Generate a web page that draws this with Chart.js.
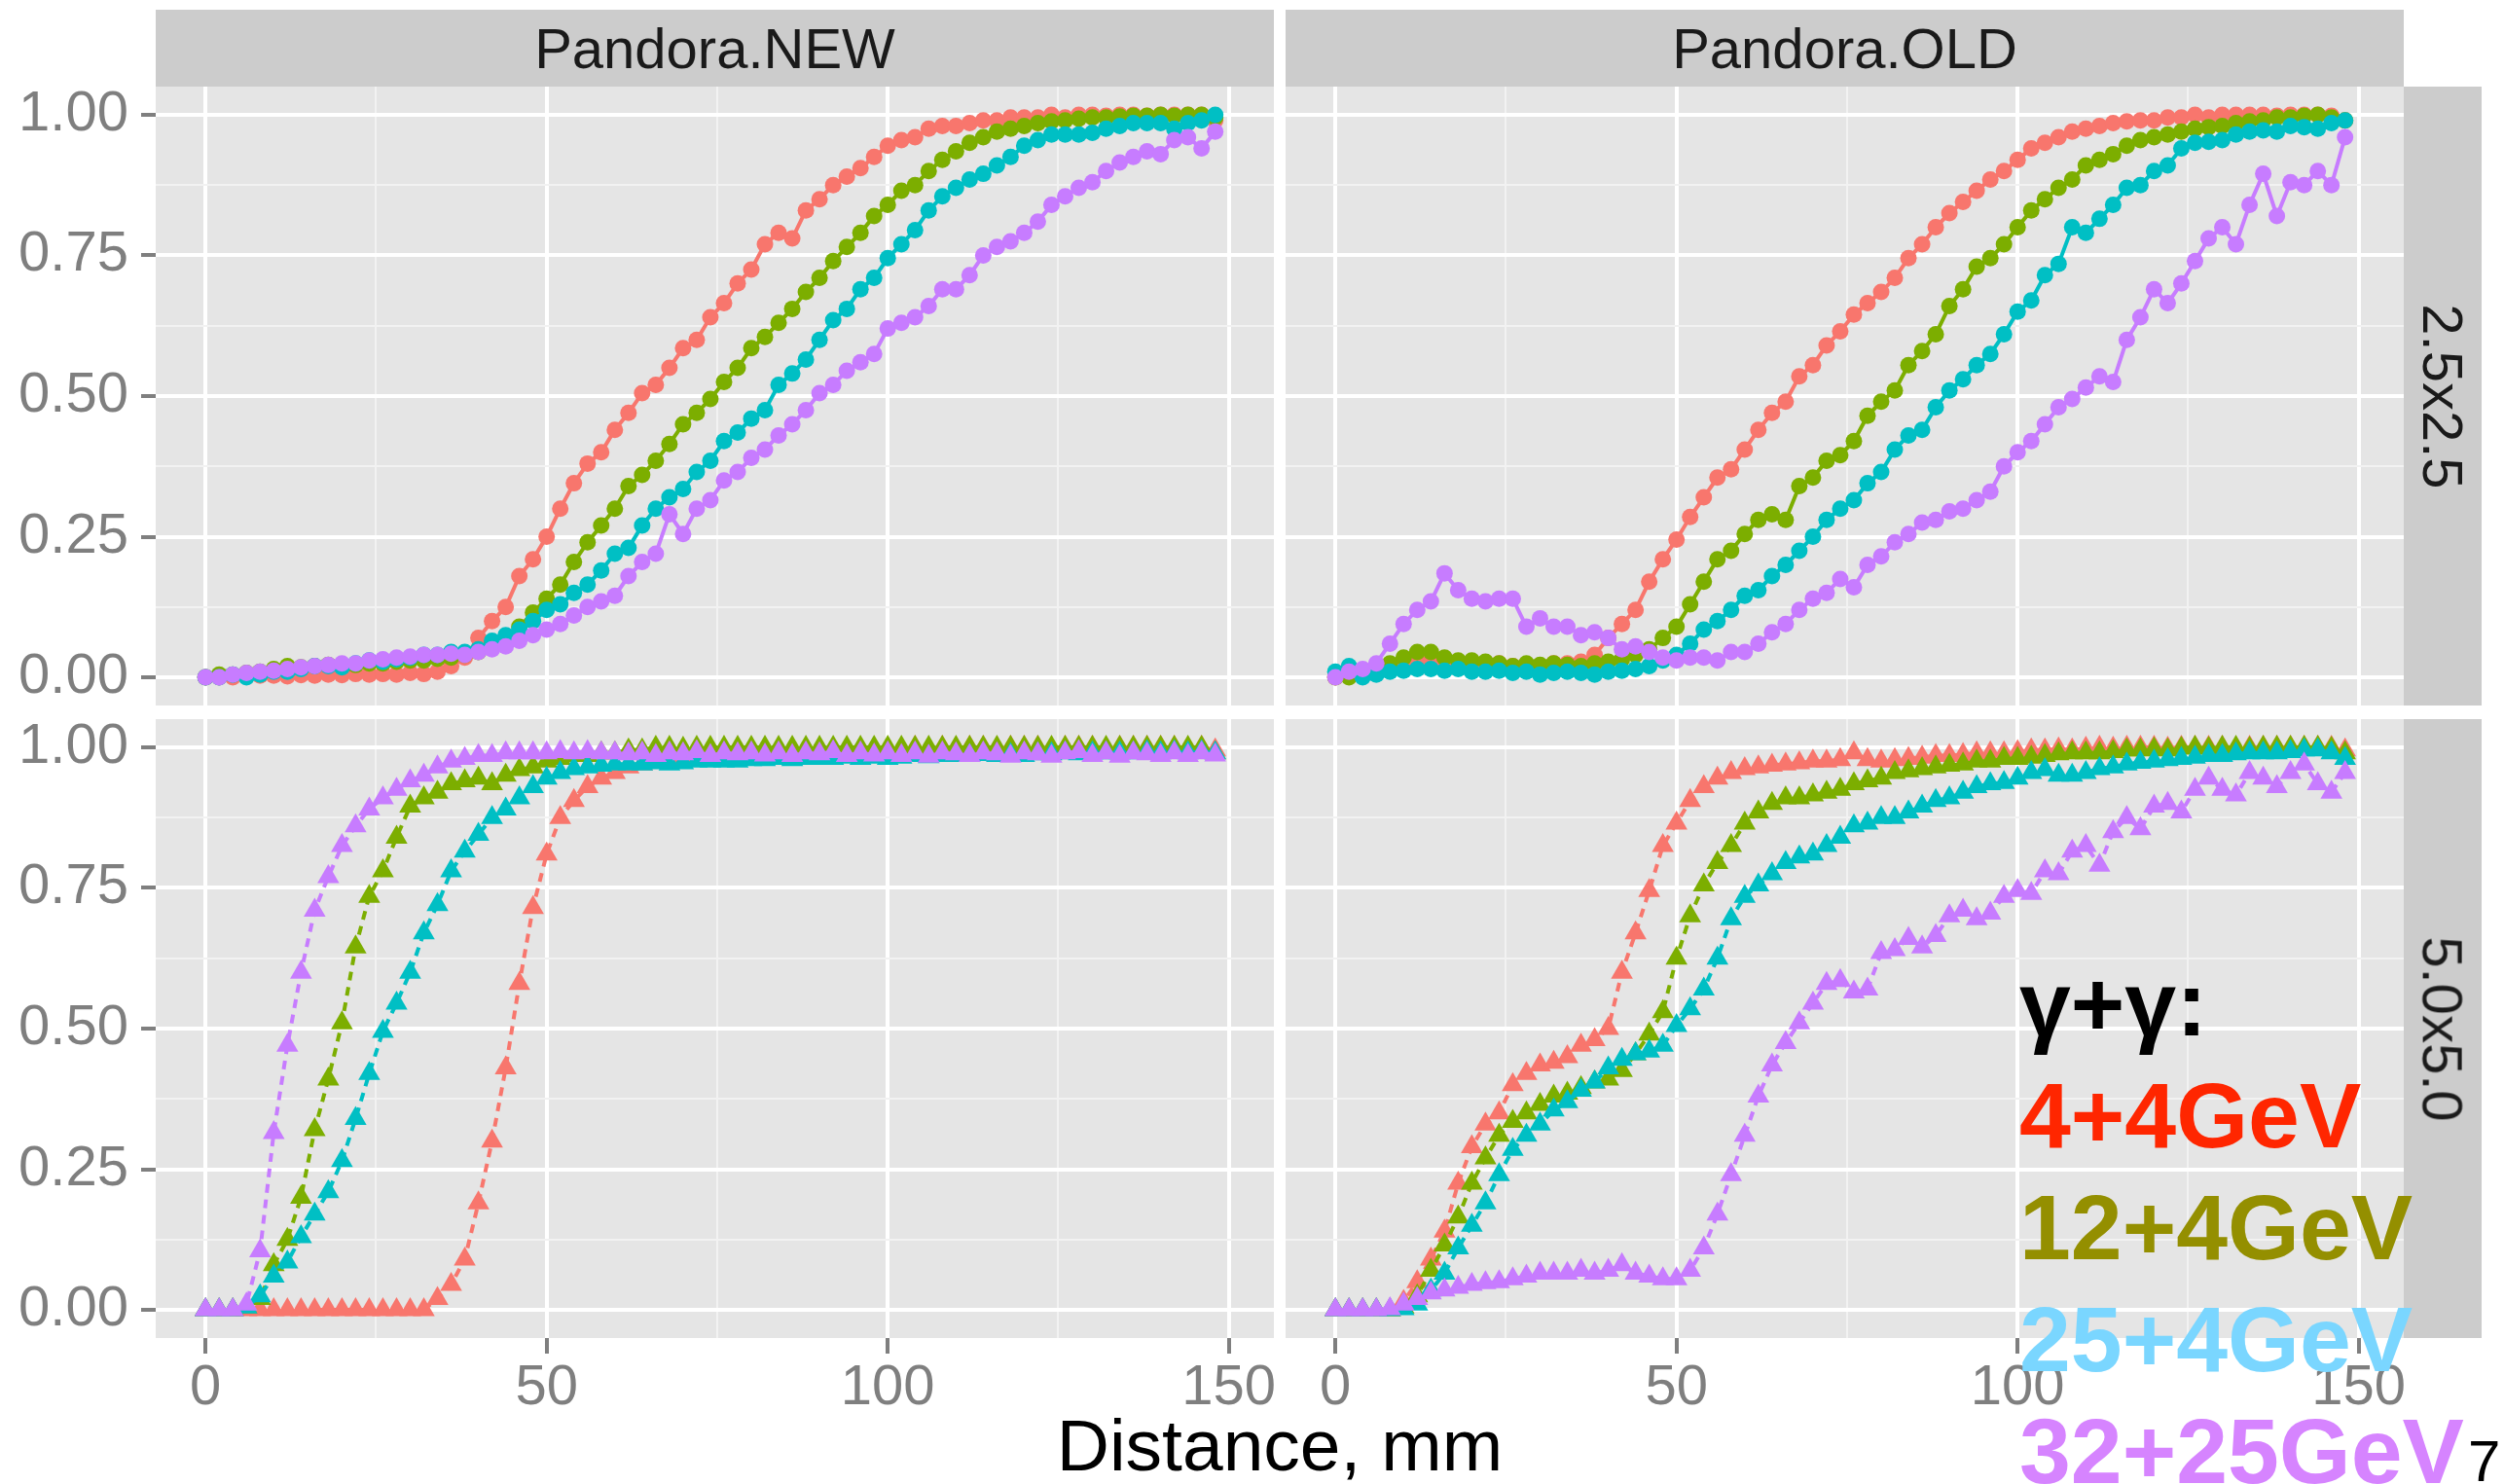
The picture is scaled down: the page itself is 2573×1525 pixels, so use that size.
<!DOCTYPE html>
<html>
<head>
<meta charset="utf-8">
<script src="https://cdn.jsdelivr.net/npm/chart.js@4.4.1/dist/chart.umd.min.js"></script>
<style>
body { margin: 0; background: #fff; }
#page { position: relative; width: 2573px; height: 1525px; overflow: hidden; font-family: "Liberation Sans", Arial, sans-serif; }
canvas { position: absolute; }
.strip { position: absolute; background: #CCCCCC; color: #1A1A1A; font-size: 58px; display: flex; align-items: center; justify-content: center; z-index: 2; }
.strip span { display: inline-block; white-space: nowrap; }
.strip.vert span { transform: rotate(90deg); }
.txt { position: absolute; white-space: nowrap; line-height: 1.117; z-index: 3; }
.leg { font-size: 95px; font-weight: bold; left: 2075px; }
</style>
</head>
<body>
<div id="page">
  <canvas id="tl"></canvas>
  <canvas id="tr"></canvas>
  <canvas id="bl"></canvas>
  <canvas id="br"></canvas>

  <div class="strip" style="left:160px;top:10px;width:1149px;height:79px;"><span>Pandora.NEW</span></div>
  <div class="strip" style="left:1321px;top:10px;width:1149px;height:79px;"><span>Pandora.OLD</span></div>
  <div class="strip vert" style="left:2470px;top:89px;width:80px;height:636px;"><span>2.5x2.5</span></div>
  <div class="strip vert" style="left:2470px;top:739px;width:80px;height:636px;"><span>5.0x5.0</span></div>

  <div class="txt" style="left:1315px;top:1444px;font-size:75px;color:#000;transform:translateX(-50%);">Distance, mm</div>

  <div class="txt leg" style="top:978px;color:#000;">γ+γ:</div>
  <div class="txt leg" style="top:1093px;color:#FF2600;">4+4GeV</div>
  <div class="txt leg" style="top:1208px;color:#948F00;">12+4GeV</div>
  <div class="txt leg" style="top:1323px;color:#7AD6FF;">25+4GeV</div>
  <div class="txt leg" style="top:1438px;color:#D684FF;">32+25GeV</div>
  <div class="txt" style="left:2536px;top:1468px;font-size:60px;color:#000;">7</div>
</div>

<script>
// distance along the shower, mm
var distance = [
  0, 2, 4, 6, 8, 10, 12, 14, 16, 18,
  20, 22, 24, 26, 28, 30, 32, 34, 36, 38,
  40, 42, 44, 46, 48, 50, 52, 54, 56, 58,
  60, 62, 64, 66, 68, 70, 72, 74, 76, 78,
  80, 82, 84, 86, 88, 90, 92, 94, 96, 98,
  100, 102, 104, 106, 108, 110, 112, 114, 116, 118,
  120, 122, 124, 126, 128, 130, 132, 134, 136, 138,
  140, 142, 144, 146, 148
];

var xMajor = [0, 50, 100, 150];
var xMinor = [25, 75, 125];
var yMajor = [0, 0.25, 0.5, 0.75, 1];
var yMinor = [0.125, 0.375, 0.625, 0.875];

var seriesNames = ['4+4GeV', '12+4GeV', '25+4GeV', '32+25GeV'];
var seriesColors = ['#F8766D', '#7CAE00', '#00BFC4', '#C77CFF'];

// Pandora.NEW, 2.5x2.5
var newFine_e4_4 = [
  0, 0, 0, 0.002, 0.003, 0.003, 0.002, 0.004, 0.003, 0.005,
  0.004, 0.006, 0.005, 0.006, 0.005, 0.008, 0.006, 0.01, 0.02, 0.035,
  0.07, 0.1, 0.125, 0.18, 0.21, 0.25, 0.3, 0.345, 0.38, 0.4,
  0.44, 0.47, 0.505, 0.52, 0.55, 0.585, 0.6, 0.64, 0.665, 0.7,
  0.725, 0.77, 0.79, 0.78, 0.83, 0.85, 0.875, 0.89, 0.905, 0.925,
  0.945, 0.955, 0.96, 0.975, 0.98, 0.98, 0.985, 0.99, 0.99, 0.995,
  0.995, 0.995, 1, 0.995, 1, 1, 0.998, 1, 1, 0.998,
  1, 1, 1, 1, 0.99
];
var newFine_e12_4 = [
  0, 0.005, 0.005, 0.008, 0.01, 0.015, 0.02, 0.018, 0.02, 0.022,
  0.02, 0.022, 0.025, 0.025, 0.028, 0.03, 0.03, 0.033, 0.035, 0.04,
  0.045, 0.06, 0.07, 0.09, 0.115, 0.14, 0.165, 0.205, 0.24, 0.27,
  0.3, 0.34, 0.36, 0.385, 0.415, 0.45, 0.47, 0.495, 0.525, 0.55,
  0.585, 0.605, 0.63, 0.655, 0.685, 0.71, 0.74, 0.765, 0.79, 0.82,
  0.84, 0.865, 0.875, 0.9, 0.92, 0.935, 0.95, 0.96, 0.97, 0.975,
  0.98, 0.985, 0.988, 0.99, 0.993, 0.995, 0.995, 0.997, 0.998, 0.998,
  1, 0.998, 1, 1, 0.995
];
var newFine_e25_4 = [
  0, 0, 0.005, 0, 0.005, 0.01, 0.01, 0.015, 0.02, 0.02,
  0.018, 0.025, 0.03, 0.028, 0.032, 0.035, 0.04, 0.04, 0.045, 0.045,
  0.05, 0.065, 0.075, 0.085, 0.1, 0.12, 0.13, 0.15, 0.165, 0.19,
  0.22, 0.23, 0.27, 0.3, 0.32, 0.335, 0.365, 0.385, 0.42, 0.435,
  0.46, 0.475, 0.52, 0.54, 0.565, 0.6, 0.635, 0.655, 0.69, 0.71,
  0.745, 0.77, 0.795, 0.83, 0.855, 0.87, 0.885, 0.895, 0.91, 0.925,
  0.945, 0.955, 0.965, 0.965, 0.965, 0.968, 0.975, 0.98, 0.985, 0.985,
  0.985, 0.975, 0.985, 0.99, 1
];
var newFine_e32_25 = [
  0, 0, 0.005, 0.008, 0.01, 0.012, 0.015, 0.018, 0.02, 0.022,
  0.025, 0.025, 0.03, 0.032, 0.035, 0.037, 0.04, 0.04, 0.042, 0.04,
  0.045, 0.05, 0.055, 0.065, 0.075, 0.085, 0.095, 0.11, 0.125, 0.135,
  0.145, 0.18, 0.205, 0.22, 0.29, 0.255, 0.3, 0.315, 0.35, 0.365,
  0.39, 0.405, 0.43, 0.45, 0.475, 0.505, 0.52, 0.545, 0.56, 0.575,
  0.62, 0.63, 0.64, 0.66, 0.69, 0.69, 0.715, 0.75, 0.765, 0.775,
  0.79, 0.81, 0.84, 0.855, 0.87, 0.88, 0.9, 0.915, 0.925, 0.935,
  0.93, 0.955, 0.96, 0.94, 0.97
];

// Pandora.OLD, 2.5x2.5
var oldFine_e4_4 = [
  0, 0.005, 0.01, 0.015, 0.02, 0.025, 0.03, 0.028, 0.025, 0.022,
  0.02, 0.022, 0.025, 0.02, 0.022, 0.02, 0.025, 0.025, 0.028, 0.04,
  0.07, 0.095, 0.12, 0.17, 0.21, 0.245, 0.285, 0.32, 0.355, 0.37,
  0.405, 0.44, 0.47, 0.49, 0.535, 0.555, 0.59, 0.615, 0.645, 0.665,
  0.685, 0.71, 0.745, 0.77, 0.8, 0.825, 0.845, 0.865, 0.885, 0.9,
  0.92, 0.94, 0.95, 0.96, 0.97, 0.975, 0.98, 0.985, 0.988, 0.99,
  0.99, 0.995, 0.995, 1, 0.995, 1, 1, 1, 1, 0.998,
  1, 1, 1, 0.998, 0.99
];
var oldFine_e12_4 = [
  0, 0, 0.005, 0.015, 0.025, 0.035, 0.045, 0.045, 0.035, 0.03,
  0.03, 0.028, 0.025, 0.02, 0.025, 0.022, 0.025, 0.022, 0.02, 0.025,
  0.028, 0.032, 0.04, 0.05, 0.07, 0.09, 0.13, 0.17, 0.21, 0.225,
  0.255, 0.28, 0.29, 0.28, 0.34, 0.355, 0.385, 0.395, 0.42, 0.465,
  0.49, 0.51, 0.555, 0.58, 0.61, 0.66, 0.69, 0.73, 0.745, 0.77,
  0.8, 0.83, 0.85, 0.87, 0.885, 0.91, 0.92, 0.93, 0.945, 0.955,
  0.96, 0.965, 0.97, 0.975, 0.978, 0.98, 0.985, 0.988, 0.99, 0.995,
  0.995, 0.998, 1, 0.995, 0.99
];
var oldFine_e25_4 = [
  0.01, 0.02, 0, 0.005, 0.01, 0.012, 0.015, 0.015, 0.012, 0.015,
  0.01, 0.01, 0.012, 0.008, 0.01, 0.005, 0.008, 0.01, 0.008, 0.005,
  0.01, 0.012, 0.015, 0.02, 0.03, 0.04, 0.06, 0.085, 0.1, 0.12,
  0.145, 0.155, 0.18, 0.2, 0.225, 0.25, 0.28, 0.3, 0.315, 0.345,
  0.365, 0.405, 0.43, 0.44, 0.48, 0.51, 0.53, 0.555, 0.575, 0.61,
  0.65, 0.67, 0.715, 0.735, 0.8, 0.79, 0.815, 0.84, 0.87, 0.875,
  0.9, 0.91, 0.94, 0.95, 0.952, 0.955, 0.965, 0.97, 0.972, 0.97,
  0.98, 0.978, 0.975, 0.985, 0.99
];
var oldFine_e32_25 = [
  0, 0.01, 0.015, 0.025, 0.06, 0.095, 0.12, 0.135, 0.185, 0.155,
  0.14, 0.135, 0.14, 0.14, 0.09, 0.105, 0.09, 0.09, 0.075, 0.08,
  0.07, 0.05, 0.055, 0.045, 0.035, 0.03, 0.035, 0.035, 0.03, 0.045,
  0.045, 0.06, 0.08, 0.095, 0.12, 0.14, 0.15, 0.175, 0.16, 0.2,
  0.215, 0.24, 0.255, 0.275, 0.28, 0.295, 0.3, 0.315, 0.33, 0.375,
  0.4, 0.42, 0.45, 0.48, 0.495, 0.515, 0.535, 0.525, 0.6, 0.64,
  0.69, 0.665, 0.7, 0.74, 0.78, 0.8, 0.77, 0.84, 0.895, 0.82,
  0.88, 0.875, 0.9, 0.875, 0.96
];

// Pandora.NEW, 5.0x5.0
var newCoarse_e4_4 = [
  0, 0, 0, 0, 0, 0, 0, 0, 0, 0,
  0, 0, 0, 0, 0, 0, 0, 0.02, 0.045, 0.09,
  0.19, 0.3, 0.43, 0.58, 0.715, 0.81, 0.875, 0.905, 0.93, 0.945,
  0.955, 0.965, 0.97, 0.975, 0.978, 0.98, 0.982, 0.985, 0.985, 0.987,
  0.99, 0.99, 0.992, 0.99, 0.993, 0.995, 0.993, 0.995, 0.995, 0.997,
  0.995, 0.997, 1, 0.997, 1, 0.998, 1, 1, 0.998, 1,
  1, 1, 0.998, 1, 1, 1, 0.998, 1, 1, 1,
  1, 1, 0.998, 1, 0.995
];
var newCoarse_e12_4 = [
  0, 0, 0, 0.005, 0.02, 0.08, 0.125, 0.2, 0.32, 0.41,
  0.51, 0.645, 0.735, 0.78, 0.84, 0.895, 0.91, 0.92, 0.935, 0.94,
  0.945, 0.935, 0.95, 0.96, 0.965, 0.975, 0.98, 0.985, 0.985, 0.99,
  0.99, 0.995, 0.995, 1, 1, 0.998, 1, 1, 1, 1,
  1, 1, 1, 1, 1, 1, 1, 1, 1, 1,
  1, 1, 1, 1, 1, 1, 1, 1, 1, 1,
  1, 1, 1, 1, 1, 1, 1, 1, 1, 1,
  1, 1, 1, 1, 0.99
];
var newCoarse_e25_4 = [
  0, 0, 0, 0.005, 0.025, 0.06, 0.085, 0.13, 0.17, 0.21,
  0.265, 0.34, 0.42, 0.495, 0.545, 0.6, 0.67, 0.72, 0.78, 0.815,
  0.845, 0.875, 0.89, 0.91, 0.93, 0.945, 0.955, 0.962, 0.965, 0.968,
  0.97, 0.97, 0.97, 0.972, 0.97, 0.972, 0.975, 0.975, 0.975, 0.975,
  0.978, 0.978, 0.98, 0.978, 0.98, 0.98, 0.98, 0.982, 0.98, 0.982,
  0.98, 0.982, 0.985, 0.983, 0.985, 0.985, 0.985, 0.987, 0.985, 0.987,
  0.985, 0.988, 0.988, 0.99, 0.988, 0.99, 0.99, 0.99, 0.99, 0.992,
  0.99, 0.992, 0.99, 0.992, 0.99
];
var newCoarse_e32_25 = [
  0, 0, 0, 0.01, 0.105, 0.315, 0.47, 0.6, 0.71, 0.77,
  0.825, 0.86, 0.89, 0.91, 0.925, 0.94, 0.95, 0.965, 0.975, 0.98,
  0.985, 0.985, 0.99, 0.99, 0.99, 0.99, 0.992, 0.99, 0.992, 0.99,
  0.99, 0.988, 0.99, 0.985, 0.99, 0.988, 0.992, 0.985, 0.99, 0.988,
  0.99, 0.986, 0.99, 0.985, 0.99, 0.988, 0.992, 0.985, 0.99, 0.986,
  0.99, 0.985, 0.99, 0.984, 0.99, 0.988, 0.985, 0.99, 0.988, 0.984,
  0.99, 0.988, 0.984, 0.99, 0.992, 0.985, 0.99, 0.984, 0.99, 0.988,
  0.985, 0.99, 0.985, 0.99, 0.986
];

// Pandora.OLD, 5.0x5.0
var oldCoarse_e4_4 = [
  0, 0, 0, 0, 0, 0.015, 0.05, 0.09, 0.14, 0.225,
  0.29, 0.33, 0.35, 0.4, 0.42, 0.435, 0.44, 0.45, 0.47, 0.48,
  0.5, 0.6, 0.67, 0.745, 0.825, 0.865, 0.905, 0.93, 0.945, 0.955,
  0.962, 0.965, 0.968, 0.97, 0.972, 0.975, 0.975, 0.978, 0.99, 0.978,
  0.975, 0.978, 0.98, 0.982, 0.985, 0.985, 0.987, 0.99, 0.99, 0.99,
  0.992, 0.995, 0.995, 0.997, 0.995, 0.998, 1, 0.998, 1, 1,
  1, 0.998, 1, 1, 1, 1, 0.998, 1, 1, 1,
  1, 1, 1, 1, 0.995
];
var oldCoarse_e12_4 = [
  0, 0, 0, 0, 0, 0.005, 0.025, 0.07, 0.115, 0.165,
  0.225, 0.27, 0.31, 0.335, 0.35, 0.365, 0.38, 0.385, 0.395, 0.405,
  0.41, 0.425, 0.455, 0.49, 0.53, 0.625, 0.7, 0.755, 0.795, 0.825,
  0.865, 0.885, 0.9, 0.91, 0.91, 0.915, 0.92, 0.925, 0.935, 0.94,
  0.945, 0.955, 0.958, 0.962, 0.965, 0.968, 0.97, 0.975, 0.975, 0.98,
  0.98, 0.982, 0.985, 0.988, 0.99, 0.99, 0.99, 0.992, 0.995, 0.995,
  0.997, 0.995, 0.998, 1, 0.998, 1, 1, 0.998, 1, 1,
  1, 1, 1, 0.998, 0.99
];
var oldCoarse_e25_4 = [
  0, 0, 0, 0, 0, 0.002, 0.01, 0.035, 0.065, 0.11,
  0.15, 0.19, 0.24, 0.285, 0.31, 0.33, 0.355, 0.37, 0.39, 0.405,
  0.43, 0.445, 0.455, 0.46, 0.47, 0.505, 0.535, 0.57, 0.625, 0.695,
  0.735, 0.755, 0.775, 0.795, 0.805, 0.81, 0.825, 0.84, 0.86, 0.865,
  0.875, 0.875, 0.885, 0.895, 0.905, 0.91, 0.92, 0.93, 0.935, 0.937,
  0.945, 0.955, 0.96, 0.95, 0.95, 0.955, 0.962, 0.965, 0.97, 0.973,
  0.975, 0.978, 0.98, 0.982, 0.985, 0.985, 0.988, 0.99, 0.99, 0.99,
  0.992, 0.995, 0.995, 0.99, 0.98
];
var oldCoarse_e32_25 = [
  0, 0, 0, 0, 0.002, 0.01, 0.02, 0.03, 0.035, 0.04,
  0.045, 0.048, 0.05, 0.055, 0.06, 0.065, 0.065, 0.065, 0.07, 0.065,
  0.07, 0.08, 0.065, 0.06, 0.055, 0.055, 0.07, 0.11, 0.17, 0.24,
  0.31, 0.38, 0.435, 0.475, 0.51, 0.545, 0.58, 0.585, 0.565, 0.57,
  0.635, 0.64, 0.66, 0.645, 0.665, 0.7, 0.71, 0.695, 0.705, 0.735,
  0.745, 0.74, 0.78, 0.775, 0.815, 0.825, 0.79, 0.85, 0.875, 0.855,
  0.895, 0.9, 0.885, 0.925, 0.945, 0.925, 0.915, 0.955, 0.945, 0.93,
  0.955, 0.97, 0.935, 0.92, 0.955
];

var FONT = '"Liberation Sans", Arial, sans-serif';
var PAD = 60, YAXIS_W = 160, XAXIS_H = 90;

var panelBg = {
  id: 'panelBg',
  beforeDraw: function(chart) {
    var a = chart.chartArea, ctx = chart.ctx;
    ctx.save();
    ctx.fillStyle = '#E5E5E5';
    ctx.fillRect(a.left, a.top, a.right - a.left, a.bottom - a.top);
    ctx.restore();
  }
};

function makePanel(id, px, py, pw, ph, series, shape, showX, showY) {
  var cv = document.getElementById(id);
  var left = showY ? px - YAXIS_W : px - PAD;
  var top = py - PAD;
  var w = px + pw + PAD - left;
  var h = py + ph + (showX ? XAXIS_H : PAD) - top;
  cv.width = w; cv.height = h;
  cv.style.left = left + 'px'; cv.style.top = top + 'px';
  cv.style.width = w + 'px'; cv.style.height = h + 'px';

  var tri = shape === 'triangle';
  var datasets = series.map(function(vals, k) {
    return {
      label: seriesNames[k],
      data: distance.map(function(d, i) { return { x: d, y: vals[i] }; }),
      borderColor: seriesColors[k],
      backgroundColor: seriesColors[k],
      pointBackgroundColor: seriesColors[k],
      pointBorderWidth: 0,
      pointStyle: shape,
      pointRadius: tri ? 13 : 8.5,
      borderWidth: 4,
      borderDash: tri ? [9, 7] : [],
      tension: 0,
      order: 4 - k
    };
  });

  var isMajorX = function(v) { return xMajor.indexOf(v) >= 0; };
  var isMajorY = function(v) { return yMajor.indexOf(v) >= 0; };

  return new Chart(cv.getContext('2d'), {
    type: 'line',
    data: { datasets: datasets },
    plugins: [panelBg],
    options: {
      responsive: false,
      animation: false,
      devicePixelRatio: 1,
      events: [],
      layout: { padding: { left: showY ? 0 : PAD, top: PAD, right: PAD, bottom: showX ? 0 : PAD } },
      plugins: { legend: { display: false }, tooltip: { enabled: false } },
      scales: {
        x: {
          type: 'linear', min: -7.3, max: 156.6,
          afterBuildTicks: function(s) {
            s.ticks = xMajor.concat(xMinor).sort(function(a, b) { return a - b; })
              .map(function(v) { return { value: v }; });
          },
          afterFit: function(s) { s.height = showX ? XAXIS_H : 0; },
          border: { display: false },
          grid: {
            color: function(c) { return isMajorX(c.tick.value) ? '#FFFFFF' : '#F2F2F2'; },
            lineWidth: function(c) { return isMajorX(c.tick.value) ? 4 : 2; },
            drawTicks: showX,
            tickLength: 16,
            tickWidth: 4,
            tickColor: function(c) { return isMajorX(c.tick.value) ? '#7F7F7F' : 'rgba(0,0,0,0)'; }
          },
          ticks: {
            display: showX, autoSkip: false, maxRotation: 0, padding: 1,
            color: '#7F7F7F', font: { family: FONT, size: 58 },
            callback: function(v) { return isMajorX(v) ? String(v) : ''; }
          }
        },
        y: {
          type: 'linear', min: -0.05, max: 1.05,
          afterBuildTicks: function(s) {
            s.ticks = yMajor.concat(yMinor).sort(function(a, b) { return a - b; })
              .map(function(v) { return { value: v }; });
          },
          afterFit: function(s) { s.width = showY ? YAXIS_W : 0; },
          border: { display: false },
          grid: {
            color: function(c) { return isMajorY(c.tick.value) ? '#FFFFFF' : '#F2F2F2'; },
            lineWidth: function(c) { return isMajorY(c.tick.value) ? 4 : 2; },
            drawTicks: showY,
            tickLength: 15,
            tickWidth: 4,
            tickColor: function(c) { return isMajorY(c.tick.value) ? '#7F7F7F' : 'rgba(0,0,0,0)'; }
          },
          ticks: {
            display: showY, autoSkip: false, padding: 13,
            color: '#7F7F7F', font: { family: FONT, size: 58 },
            callback: function(v) { return isMajorY(v) ? v.toFixed(2) : ''; }
          }
        }
      }
    }
  });
}

makePanel('tl', 160, 89, 1149, 636,
  [newFine_e4_4, newFine_e12_4, newFine_e25_4, newFine_e32_25], 'circle', false, true);
makePanel('tr', 1321, 89, 1149, 636,
  [oldFine_e4_4, oldFine_e12_4, oldFine_e25_4, oldFine_e32_25], 'circle', false, false);
makePanel('bl', 160, 739, 1149, 636,
  [newCoarse_e4_4, newCoarse_e12_4, newCoarse_e25_4, newCoarse_e32_25], 'triangle', true, true);
makePanel('br', 1321, 739, 1149, 636,
  [oldCoarse_e4_4, oldCoarse_e12_4, oldCoarse_e25_4, oldCoarse_e32_25], 'triangle', true, false);
</script>
</body>
</html>
